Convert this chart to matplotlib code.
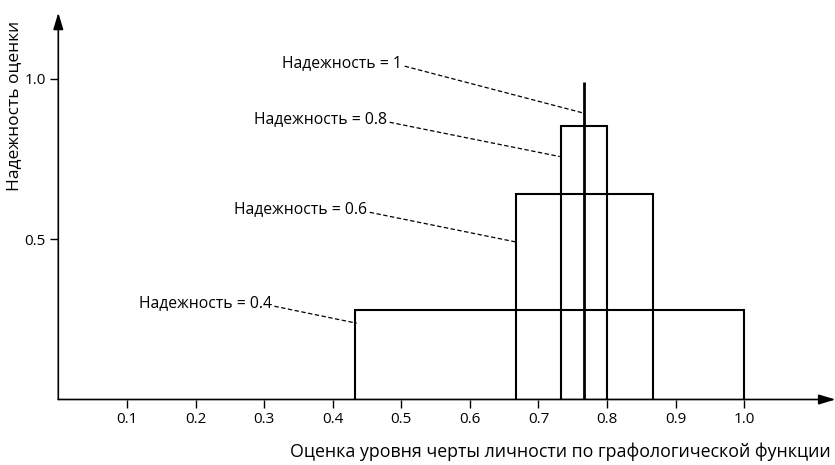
import matplotlib

matplotlib.use("Agg")
import matplotlib.pyplot as plt

plt.rcParams["font.family"] = ["Open Sans", "DejaVu Sans"]

# Данные: нечеткие оценки при разной надежности
nadezhnost = [0.4, 0.6, 0.8, 1.0]
levo = [0.433, 0.667, 0.733, 0.767]
pravo = [1.0, 0.867, 0.8, 0.767]
vysota = [0.28, 0.64, 0.853, 0.99]
metki = ["Надежность = 0.4", "Надежность = 0.6", "Надежность = 0.8", "Надежность = 1"]

x_ticks = [0.1, 0.2, 0.3, 0.4, 0.5, 0.6, 0.7, 0.8, 0.9, 1.0]
y_ticks = [0.5, 1.0]

# положение подписей (конец текста) и концов выносок
tekst_xy = [(0.311, 0.301), (0.450, 0.594), (0.479, 0.875), (0.501, 1.050)]
vynoska_xy = [(0.435, 0.238), (0.666, 0.492), (0.731, 0.758), (0.765, 0.894)]

W, H = 835, 465
fig = plt.figure(figsize=(W / 100, H / 100), dpi=100)
x0, y0, sx, sy = 58.3, 399.5, 686.0, 320.5
xmax, ymax = 1.135, 1.21
ax = fig.add_axes([x0 / W, (H - y0) / H, xmax * sx / W, ymax * sy / H])
ax.set_xlim(0, xmax)
ax.set_ylim(0, ymax)
for s in ax.spines.values():
    s.set_visible(False)

# оси со стрелками
strelka = dict(arrowstyle="-|>,head_length=1.0,head_width=0.3", color="black",
               lw=1.2, shrinkA=0, shrinkB=0)
ax.annotate("", xy=(1.133, 0), xytext=(0, 0), annotation_clip=False, arrowprops=strelka)
ax.annotate("", xy=(0, 1.207), xytext=(0, 0), annotation_clip=False, arrowprops=strelka)

for l, r, h in zip(levo, pravo, vysota):
    if r > l:
        ax.bar(l, h, width=r - l, align="edge", fill=False, edgecolor="black", lw=1.5,
               zorder=3)
    else:
        ax.vlines(l, 0, h, color="black", lw=2, zorder=3)

for txt, (tx, ty), (ex, ey) in zip(metki, tekst_xy, vynoska_xy):
    ax.text(tx, ty, txt, ha="right", va="center", fontsize=11.3)
    ax.plot([tx + 0.004, ex], [ty - 0.01, ey], color="black", lw=0.9,
            linestyle=(0, (3.5, 2)), zorder=4)

ax.set_xticks(x_ticks)
ax.set_xticklabels([f"{v:.1f}" for v in x_ticks])
ax.set_yticks(y_ticks)
ax.set_yticklabels([f"{v:.1f}" for v in y_ticks])
ax.tick_params(direction="out", length=6, width=1, labelsize=11, pad=3)

fig.text(831 / W, 1 - 452 / H, "Оценка уровня черты личности по графологической функции",
         ha="right", va="center", fontsize=12.8)
fig.text(14 / W, 1 - 106 / H, "Надежность оценки", rotation=90,
         ha="center", va="center", fontsize=12.5)

fig.savefig("out.png", dpi=100)
